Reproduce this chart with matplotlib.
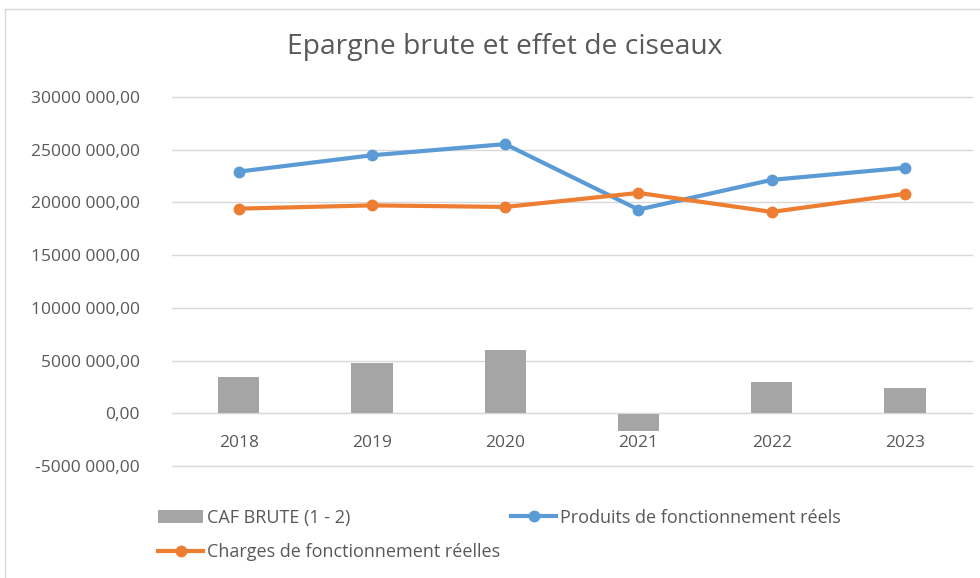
import matplotlib
matplotlib.use("Agg")
import matplotlib.pyplot as plt
from matplotlib.ticker import FuncFormatter, MultipleLocator
from matplotlib.lines import Line2D

# ------------------------------
# Données
# ------------------------------
annees = ["2018", "2019", "2020", "2021", "2022", "2023"]
caf_brute = [3460000, 4810000, 5990000, -1670000, 2950000, 2400000]
produits = [22920000, 24470000, 25530000, 19320000, 22140000, 23290000]
charges = [19410000, 19720000, 19570000, 20900000, 19100000, 20810000]

bleu = "#5B9BD5"
orange = "#ED7D31"
gris = "#A5A5A5"
grille = "#D9D9D9"
texte = "#595959"

plt.rcParams["font.family"] = ["Open Sans", "DejaVu Sans"]


def format_euros(v, pos):
    n = int(round(v))
    if abs(n) >= 1000:
        signe = "-" if n < 0 else ""
        n = abs(n)
        return f"{signe}{n // 1000} {n % 1000:03d},00"
    return f"{n},00"


fig = plt.figure(figsize=(9.8, 5.78), dpi=100)
ax = fig.add_axes([0.1755, 0.1938, 0.816, 0.6384])

x = list(range(len(annees)))
ax.bar(x, caf_brute, width=0.31, color=gris, zorder=2, label="CAF BRUTE (1 - 2)")
ax.plot(x, produits, color=bleu, lw=3, marker="o", ms=7.5, zorder=3,
        label="Produits de fonctionnement réels")
ax.plot(x, charges, color=orange, lw=3, marker="o", ms=7.5, zorder=3,
        label="Charges de fonctionnement réelles")

ax.set_xlim(-0.5, 5.5)
ax.set_ylim(-5000000, 30000000)
ax.yaxis.set_major_locator(MultipleLocator(5000000))
ax.yaxis.set_major_formatter(FuncFormatter(format_euros))
ax.set_xticks(x)
ax.set_xticklabels(annees)

ax.grid(axis="y", color=grille, lw=1, zorder=0)
for gl in ax.get_ygridlines():
    gl.set_clip_on(False)
for s in ["top", "right", "left"]:
    ax.spines[s].set_visible(False)
ax.spines["bottom"].set_position(("data", 0))
ax.spines["bottom"].set_color(grille)
ax.tick_params(axis="both", length=0, labelsize=12.5, colors=texte)
ax.tick_params(axis="x", pad=15.5)
ax.tick_params(axis="y", pad=23)

fig.text(0.515, 0.918, "Epargne brute et effet de ciseaux", ha="center", va="center",
         fontsize=20.3, color=texte)

# légende en bas
h, l = ax.get_legend_handles_labels()
h = [h[i] for i in [2, 1, 0]]
l = [l[i] for i in [2, 1, 0]]
fig.legend(h, l, ncol=2, loc="upper left", bbox_to_anchor=(0.145, 0.148),
           frameon=False, fontsize=13, labelcolor=texte, handlelength=2.5,
           handletextpad=0.2, columnspacing=0.6, labelspacing=0.9)

# cadre de la zone de graphique
fig.add_artist(Line2D([0.005, 0.005], [0, 0.985], color=grille, lw=1))
fig.add_artist(Line2D([0.005, 1], [0.985, 0.985], color=grille, lw=1))

fig.savefig("out.png", dpi=100)
